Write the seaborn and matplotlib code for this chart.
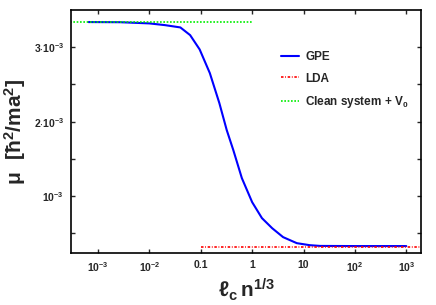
import numpy as np
import pandas as pd
import matplotlib
matplotlib.use("Agg")
import matplotlib.pyplot as plt
import seaborn as sns
from matplotlib.ticker import FixedLocator, FixedFormatter, NullLocator

# data
x_gpe = [6.5e-4, 2.7e-3, 1.0e-2, 2.0e-2, 4.0e-2, 6.2e-2, 9.5e-2, 0.15, 0.23, 0.32,
         0.43, 0.63, 1.0, 1.55, 2.45, 4.0, 7.4, 13.2, 21.0, 100.0, 1000.0]
mu_gpe = [3.336e-3, 3.334e-3, 3.318e-3, 3.295e-3, 3.264e-3, 3.161e-3, 2.969e-3,
          2.651e-3, 2.248e-3, 1.886e-3, 1.617e-3, 1.242e-3, 0.919e-3, 0.705e-3,
          0.570e-3, 0.450e-3, 0.369e-3, 0.342e-3, 0.332e-3, 0.330e-3, 0.330e-3]

x_lda = [0.1, 2000.0]
mu_lda = [0.322e-3, 0.322e-3]

x_clean = [2.9e-4, 1.0]
mu_clean = [3.336e-3, 3.336e-3]

xticks = [1e-3, 1e-2, 0.1, 1, 10, 100, 1000]
xticklabels = [r'$10^{-3}$', r'$10^{-2}$', '0.1', '1', '10', r'$10^{2}$', r'$10^{3}$']
yticks = [1e-3, 2e-3, 3e-3]
yticklabels = [r'$10^{-3}$', r'$2{\cdot}10^{-3}$', r'$3{\cdot}10^{-3}$']
yminor = [0.5e-3, 1.5e-3, 2.5e-3]

sns.set_style("ticks")
plt.rcParams['font.family'] = ['Liberation Sans', 'DejaVu Sans']
plt.rcParams['font.weight'] = 'bold'
plt.rcParams['mathtext.fontset'] = 'custom'
plt.rcParams['mathtext.rm'] = 'Liberation Sans:bold'
plt.rcParams['mathtext.it'] = 'Liberation Sans:bold'
plt.rcParams['mathtext.bf'] = 'Liberation Sans:bold'
plt.rcParams['mathtext.default'] = 'rm'

fig = plt.figure(figsize=(4.36, 3.05), dpi=100)
ax = fig.add_axes([0.163, 0.170, 0.803, 0.797])

sns.lineplot(x=x_gpe, y=mu_gpe, ax=ax, color='#0000ff', lw=1.5, label='GPE')
sns.lineplot(x=x_lda, y=mu_lda, ax=ax, color='#ff0000', lw=1.2,
             linestyle=(0, (1.5, 1.0, 0.5, 1.0)), label='LDA')
sns.lineplot(x=x_clean, y=mu_clean, ax=ax, color='#00ee00', lw=1.2,
             linestyle=(0, (1, 1)), label=r'Clean system + V$_0$')

ax.set_xscale('log')
ax.set_xlim(10 ** -3.525, 10 ** 3.29)
ax.set_ylim(0.235e-3, 3.497e-3)

ax.xaxis.set_major_locator(FixedLocator(xticks))
ax.xaxis.set_major_formatter(FixedFormatter(xticklabels))
ax.xaxis.set_minor_locator(NullLocator())
ax.yaxis.set_major_locator(FixedLocator(yticks))
ax.yaxis.set_major_formatter(FixedFormatter(yticklabels))
ax.yaxis.set_minor_locator(FixedLocator(yminor))

ax.tick_params(which='both', direction='in', top=True, right=True,
               length=3, width=1, labelsize=7.5, pad=5)
for s in ax.spines.values():
    s.set_linewidth(1.2)
    s.set_color('black')

ax.set_xlabel(r'$\ell_c\,n^{1/3}$', fontsize=15, labelpad=2)
ax.set_ylabel(r'$\mu\ \ [\hbar^2/ma^2]$', fontsize=15, labelpad=4)

leg = ax.legend(loc='upper right', bbox_to_anchor=(0.995, 0.875), frameon=False,
                fontsize=8.5, handlelength=1.6, handletextpad=0.5, labelspacing=0.8)
for t in leg.get_texts():
    t.set_fontweight('bold')

fig.savefig('out.png', dpi=100)
